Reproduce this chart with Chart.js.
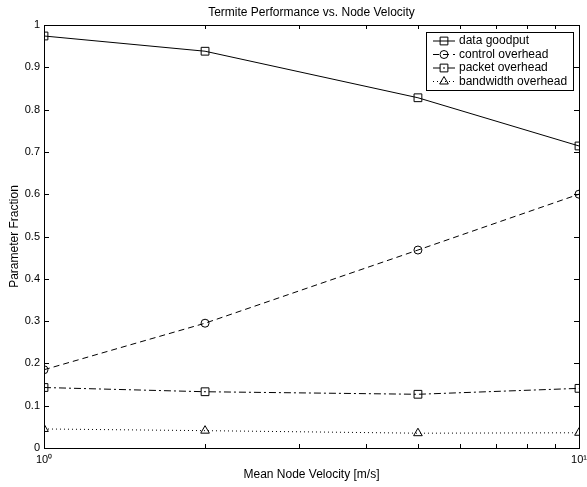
<!DOCTYPE html>
<html>
<head>
<meta charset="utf-8">
<script src="https://cdn.jsdelivr.net/npm/chart.js@4/dist/chart.umd.min.js"></script>
<style>
  html, body { margin: 0; padding: 0; background: #fff; }
  canvas { display: block; }
</style>
</head>
<body>
<canvas id="chart" width="587" height="487"></canvas>
<script>
// values
const velocities = [1, 2, 5, 10];
const dataGoodput = [0.974, 0.938, 0.828, 0.714];
const controlOverhead = [0.185, 0.295, 0.468, 0.600];
const packetOverhead = [0.143, 0.133, 0.127, 0.141];
const bandwidthOverhead = [0.045, 0.041, 0.035, 0.036];

const xTicks = [1, 2, 3, 4, 5, 6, 7, 8, 9, 10];
const xTickLabels = { 1: '10\u2070', 10: '10\u00b9' };
const seriesNames = ['data goodput', 'control overhead', 'packet overhead', 'bandwidth overhead'];

const FONT = "'Liberation Sans', Arial, Helvetica, sans-serif";

function pts(values) {
  return velocities.map((v, i) => ({ x: v, y: values[i] }));
}

function series(label, values, dash, style, radius) {
  return {
    label: label,
    data: pts(values),
    borderColor: '#000',
    borderWidth: 1,
    borderDash: dash,
    pointStyle: style,
    pointRadius: radius,
    pointBorderColor: '#000',
    pointBackgroundColor: 'rgba(0,0,0,0)',
    pointBorderWidth: 1,
    fill: false,
    tension: 0
  };
}

// frame, inward ticks, title and legend drawn matlab style
const matlabFrame = {
  id: 'matlabFrame',
  afterDraw(chart) {
    const ctx = chart.ctx;
    const a = chart.chartArea;
    const xs = chart.scales.x, ys = chart.scales.y;
    ctx.save();
    ctx.strokeStyle = '#000';
    ctx.lineWidth = 1;
    ctx.setLineDash([]);
    ctx.strokeRect(a.left + 0.5, a.top + 0.5, a.right - a.left, a.bottom - a.top);

    ctx.beginPath();
    xTicks.forEach(v => {
      const px = Math.round(xs.getPixelForValue(v)) + 0.5;
      ctx.moveTo(px, a.bottom); ctx.lineTo(px, a.bottom - 4);
      ctx.moveTo(px, a.top); ctx.lineTo(px, a.top + 4);
    });
    ys.ticks.forEach(t => {
      const py = Math.round(ys.getPixelForValue(t.value)) + 0.5;
      ctx.moveTo(a.left, py); ctx.lineTo(a.left + 5, py);
      ctx.moveTo(a.right, py); ctx.lineTo(a.right - 5, py);
    });
    ctx.stroke();

    // title
    ctx.fillStyle = '#000';
    ctx.font = '12px ' + FONT;
    ctx.textAlign = 'center';
    ctx.textBaseline = 'middle';
    ctx.fillText('Termite Performance vs. Node Velocity', (a.left + a.right) / 2, 13);

    // legend box
    const bx = 426, by = 32, bw = 147, bh = 58;
    ctx.fillStyle = '#fff';
    ctx.fillRect(bx, by, bw, bh);
    ctx.strokeRect(bx + 0.5, by + 0.5, bw, bh);
    chart.data.datasets.forEach((ds, i) => {
      const y = by + 9 + i * 13.5;
      ctx.setLineDash(ds.borderDash || []);
      ctx.beginPath();
      ctx.moveTo(433, y); ctx.lineTo(455, y);
      ctx.stroke();
      ctx.setLineDash([]);
      ctx.fillStyle = 'rgba(0,0,0,0)';
      Chart.helpers.drawPoint(ctx, {
        pointStyle: ds.pointStyle, radius: ds.pointRadius, rotation: 0, borderWidth: 1
      }, 444, y);
      ctx.fillStyle = '#000';
      ctx.textAlign = 'left';
      ctx.fillText(ds.label, 459, y);
    });
    ctx.restore();
  }
};

new Chart(document.getElementById('chart'), {
  type: 'line',
  data: {
    datasets: [
      series(seriesNames[0], dataGoodput, [], 'rect', 5.5),
      series(seriesNames[1], controlOverhead, [6, 4], 'circle', 4),
      series(seriesNames[2], packetOverhead, [7, 3, 2, 3], 'rect', 5.5),
      series(seriesNames[3], bandwidthOverhead, [1, 3], 'triangle', 5)
    ]
  },
  options: {
    responsive: false,
    animation: false,
    devicePixelRatio: 1,
    layout: { padding: { top: 25, right: 8, left: 0, bottom: 0 } },
    plugins: {
      legend: { display: false },
      title: { display: false },
      tooltip: { enabled: false }
    },
    scales: {
      x: {
        type: 'logarithmic',
        min: 1,
        max: 10,
        grid: { display: false, drawTicks: false },
        border: { display: false },
        afterBuildTicks: s => { s.ticks = xTicks.map(v => ({ value: v })); },
        afterFit: s => { s.height = 39; s.paddingLeft = 0; s.paddingRight = 0; },
        ticks: {
          autoSkip: false,
          maxRotation: 0,
          padding: 5,
          color: '#000',
          font: { family: FONT, size: 11 },
          callback: v => xTickLabels[v] || ''
        },
        title: {
          display: true,
          text: 'Mean Node Velocity [m/s]',
          color: '#000',
          font: { family: FONT, size: 12 },
          padding: { top: 0, bottom: 5 }
        }
      },
      y: {
        min: 0,
        max: 1,
        grid: { display: false, drawTicks: false },
        border: { display: false },
        afterFit: s => { s.width = 44; },
        ticks: {
          stepSize: 0.1,
          padding: 4,
          color: '#000',
          font: { family: FONT, size: 11 },
          callback: v => String(Number(v.toFixed(1)))
        },
        title: {
          display: true,
          text: 'Parameter Fraction',
          color: '#000',
          font: { family: FONT, size: 12 },
          padding: { top: 7, bottom: 0 }
        }
      }
    }
  },
  plugins: [matlabFrame]
});
</script>
</body>
</html>
